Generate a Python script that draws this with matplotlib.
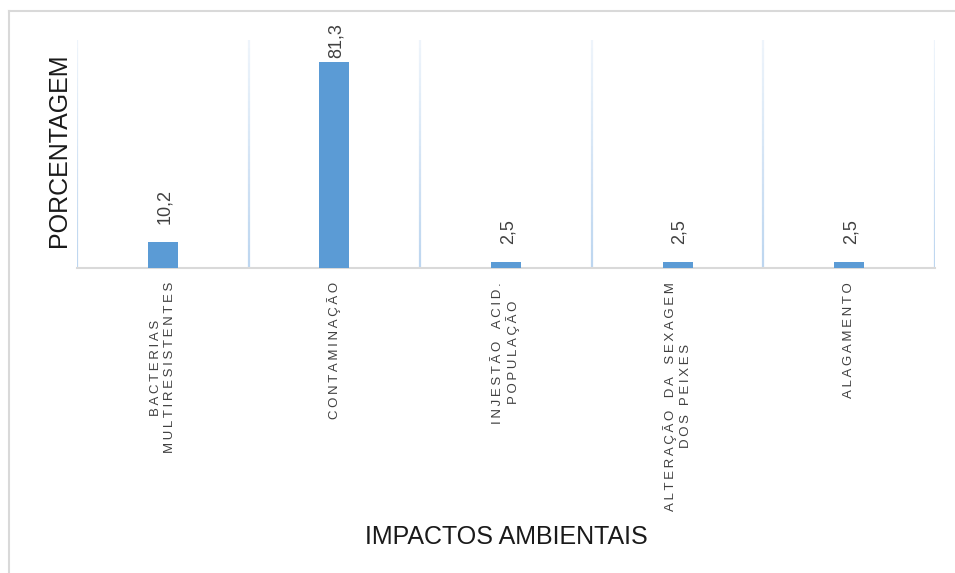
import matplotlib
matplotlib.use("Agg")
import matplotlib.pyplot as plt
from matplotlib.lines import Line2D
from matplotlib.collections import LineCollection

categories = [
    "BACTERIAS\nMULTIRESISTENTES",
    "CONTAMINAÇÃO",
    "INJESTÃO  ACID.\nPOPULAÇÃO",
    "ALTERAÇÃO  DA  SEXAGEM\nDOS PEIXES",
    "ALAGAMENTO",
]
values = [10.2, 81.3, 2.5, 2.5, 2.5]
value_labels = ["10,2", "81,3", "2,5", "2,5", "2,5"]
y_title = "PORCENTAGEM"
x_title = "IMPACTOS AMBIENTAIS"

plt.rcParams['font.family'] = ['Liberation Sans', 'DejaVu Sans']

def spaced(s):
    lines = []
    for line in s.split("\n"):
        words = [w for w in line.split(" ") if w]
        gap = "\u2009  \u2009" if len(words) > 1 and line.count("  ") else "\u2009 \u2009"
        lines.append(gap.join("\u2009".join(w) for w in words))
    return "\n".join(lines)

W, H = 955, 573
fig = plt.figure(figsize=(W / 100, H / 100), dpi=100)
ax = fig.add_axes([77 / W, 1 - 268 / H, (935 - 77) / W, (268 - 40) / H])

x = list(range(len(categories)))
ax.bar(x, values, width=0.175, color="#5b9bd5", zorder=3)
ax.set_xlim(-0.5, len(categories) - 0.5)
ax.set_ylim(0, 90)

# vertical category separators, fading towards the top
n = 30
for i in range(len(categories) + 1):
    xb = i - 0.5
    segs, cols = [], []
    for k in range(n):
        y0 = 90 * k / n
        y1 = 90 * (k + 1) / n
        segs.append([(xb, y0), (xb, y1)])
        a = 1.0 - 0.75 * (k / (n - 1))
        cols.append((0.74, 0.84, 0.94, a))
    ax.add_collection(LineCollection(segs, colors=cols, lw=1.6, zorder=1))

for s in ["top", "right", "left"]:
    ax.spines[s].set_visible(False)
ax.spines["bottom"].set_color("#d9d9d9")
ax.spines["bottom"].set_linewidth(1.5)
ax.set_yticks([])
ax.set_xticks(x)
ax.set_xticklabels([spaced(c) for c in categories], rotation=90,
                   fontsize=9.5, color="#404040", multialignment="center",
                   linespacing=1.25)
ax.tick_params(axis="x", length=0, pad=10)

for xi, v, lab in zip(x, values, value_labels):
    off = 4 if v > 70 else 18
    ax.annotate(lab, (xi, v), xytext=(2, off), textcoords="offset pixels",
                rotation=90, ha="center", va="bottom", fontsize=13,
                color="#404040")

ax.set_ylabel(y_title, fontsize=18, color="#1a1a1a", va="center")
ax.yaxis.set_label_coords(-0.021, 0.518)
ax.set_xlabel(x_title, fontsize=18, color="#1a1a1a", va="center")
ax.xaxis.set_label_coords(0.501, (268 - 537) / 228)

# outer chart border (top and left visible)
fig.add_artist(Line2D([9 / W, 9 / W], [0, 1 - 11 / H], transform=fig.transFigure,
                      color="#d9d9d9", lw=1.5))
fig.add_artist(Line2D([9 / W, 1], [1 - 11 / H, 1 - 11 / H], transform=fig.transFigure,
                      color="#d9d9d9", lw=1.5))

fig.savefig("out.png", dpi=100)
